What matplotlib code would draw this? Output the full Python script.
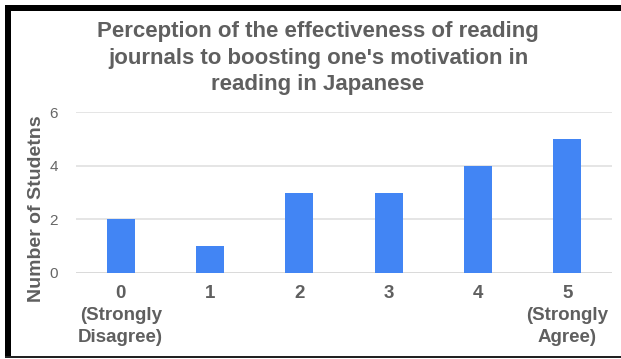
import matplotlib
matplotlib.use("Agg")
import matplotlib.pyplot as plt
from matplotlib.patches import Rectangle

plt.rcParams['font.family'] = ['Liberation Sans', 'DejaVu Sans']

categories = ["0\n(Strongly\nDisagree)", "1", "2", "3", "4", "5\n(Strongly\nAgree)"]
counts = [2, 1, 3, 3, 4, 5]
y_ticks = [0, 2, 4, 6]
title = "Perception of the effectiveness of reading\njournals to boosting one's motivation in\nreading in Japanese"
y_label = "Number of Studetns"

W, H = 621, 359
fig = plt.figure(figsize=(W / 100, H / 100), dpi=100)
fig.patch.set_facecolor("white")

ax = fig.add_axes([76 / W, 86 / H, 536 / W, 161 / H])
x = range(len(categories))
ax.bar(x, counts, width=0.31, color="#4285F4", zorder=3)
ax.set_xlim(-0.5, len(categories) - 0.5)
ax.set_ylim(0, 6)
ax.set_yticks(y_ticks)
ax.set_yticklabels([str(t) for t in y_ticks], color="#666666", fontsize=11)
ax.set_xticks(list(x))
ax.set_xticklabels(categories, fontsize=13.5, fontweight="bold", color="#5f5f5f",
                   linespacing=1.38)
ax.tick_params(axis="both", length=0)
ax.tick_params(axis="y", pad=13)
ax.tick_params(axis="x", pad=9)
ax.grid(axis="y", color="#e0e0e0", linewidth=1.2, zorder=0)
for s in ax.spines.values():
    s.set_visible(False)
ax.axhline(0, color="#d9d9d9", linewidth=1.3, zorder=2)

ax.set_ylabel(y_label, fontsize=14, fontweight="bold", color="#5f5f5f",
              va="center")
ax.yaxis.set_label_coords(-39 / 536, 0.40)

fig.text(318 / W, 1 - 21.5 / H, title, ha="center", va="top", fontsize=16,
         fontweight="bold", color="#5f5f5f", linespacing=1.32)

# frame around the chart
fig.add_artist(Rectangle((5 / W, 1 - 11 / H), 1 - 5 / W, 6 / H,
                         transform=fig.transFigure, color="black", lw=0))
fig.add_artist(Rectangle((5 / W, 2 / H), 6 / W, 1 - 13 / H,
                         transform=fig.transFigure, color="black", lw=0))
fig.add_artist(Rectangle((5 / W, 1.5 / H), 1 - 5 / W, 1.8 / H,
                         transform=fig.transFigure, color="#222222", lw=0))

fig.savefig("out.png", dpi=100, facecolor="white")
